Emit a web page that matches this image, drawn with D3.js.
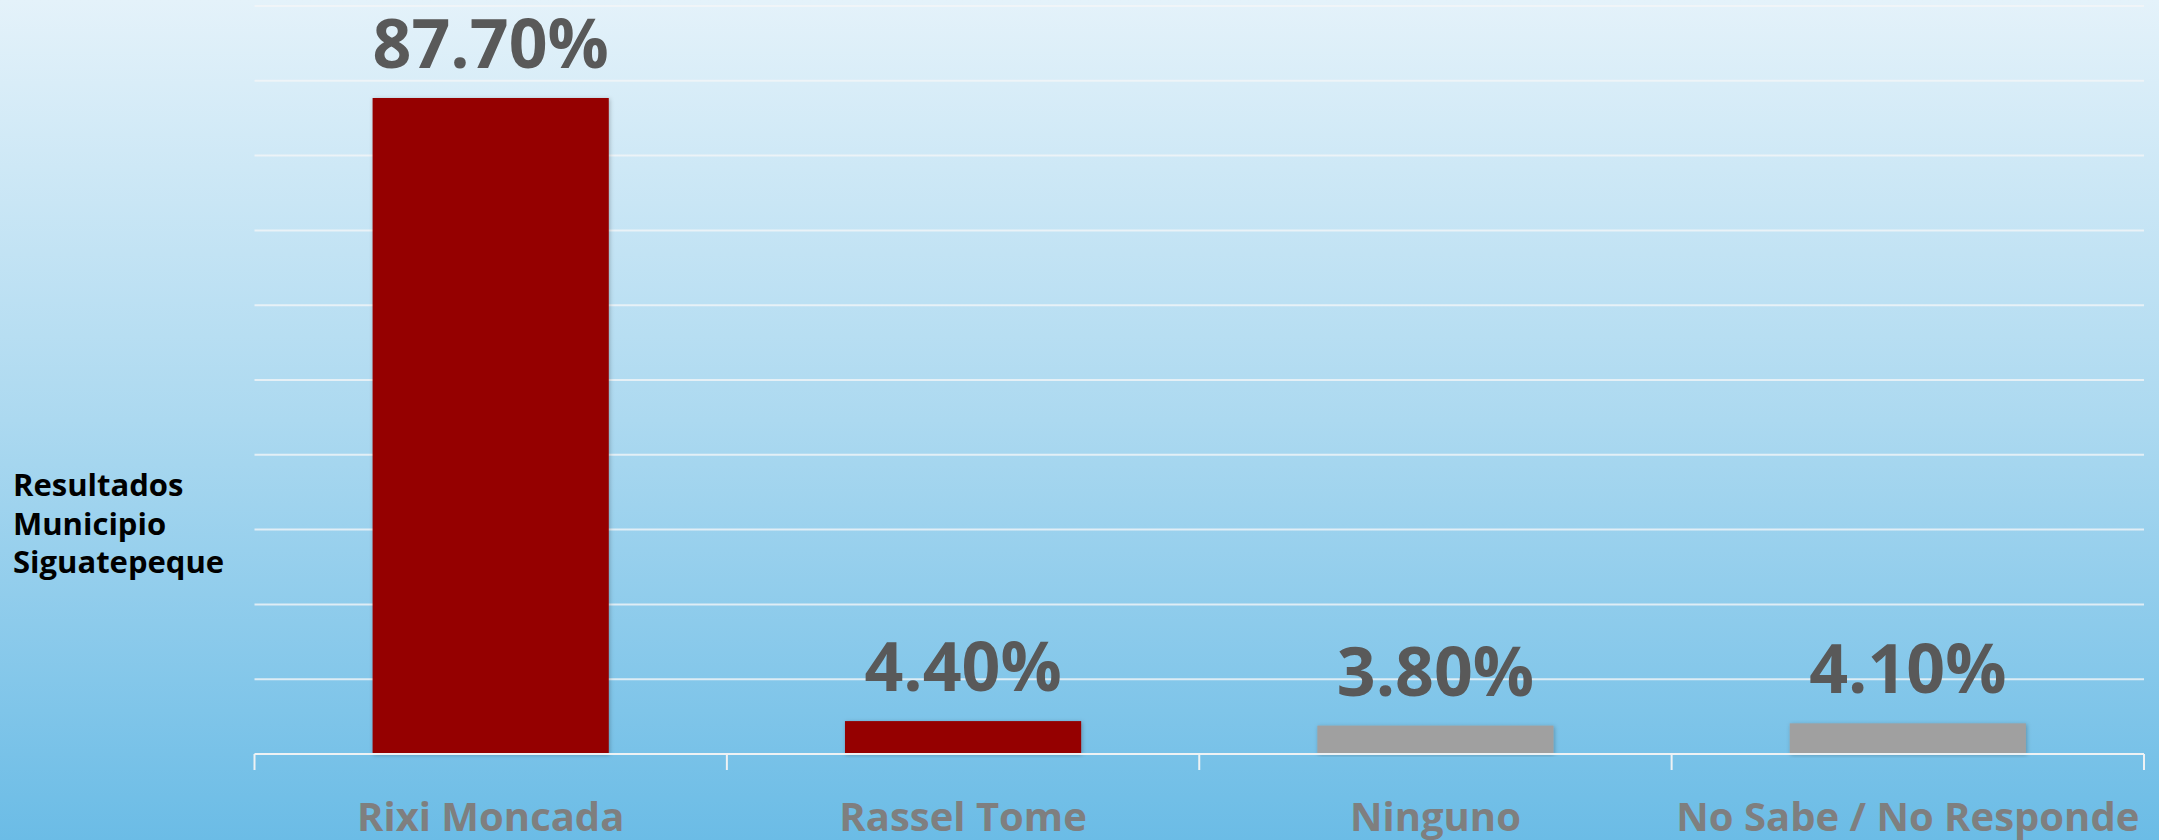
<!DOCTYPE html>
<html>
<head>
<meta charset="utf-8">
<script src="https://cdn.jsdelivr.net/npm/d3@7"></script>
<style>
  html, body { margin: 0; padding: 0; }
  body { width: 2159px; height: 840px; overflow: hidden; }
</style>
</head>
<body>
<div id="chart"></div>
<script>
// datos
const categories = ["Rixi Moncada", "Rassel Tome", "Ninguno", "No Sabe / No Responde"];
const values = [87.7, 4.4, 3.8, 4.1];
const barColors = ["#950000", "#950000", "#a0a0a0", "#a0a0a0"];
const titleLines = ["Resultados", "Municipio", "Siguatepeque"];

const W = 2159, H = 840;
const plotLeft = 254.5, plotRight = 2144, plotBase = 754, plotTop = 6;

const svg = d3.select("#chart")
  .append("svg")
  .attr("width", W)
  .attr("height", H);

const defs = svg.append("defs");
const grad = defs.append("linearGradient")
  .attr("id", "bg")
  .attr("x1", 0).attr("y1", 0).attr("x2", 0).attr("y2", 1);
grad.append("stop").attr("offset", "0%").attr("stop-color", "#e4f2fa");
grad.append("stop").attr("offset", "50%").attr("stop-color", "#acd9f0");
grad.append("stop").attr("offset", "100%").attr("stop-color", "#6bbce6");

const shadow = defs.append("filter").attr("id", "shadow")
  .attr("x", "-10%").attr("y", "-10%").attr("width", "120%").attr("height", "120%");
shadow.append("feDropShadow")
  .attr("dx", 1).attr("dy", 1).attr("stdDeviation", 2)
  .attr("flood-color", "#000").attr("flood-opacity", 0.25);

svg.append("rect")
  .attr("width", W).attr("height", H)
  .attr("fill", "url(#bg)");

const x = d3.scaleBand()
  .domain(categories)
  .range([plotLeft, plotRight])
  .paddingInner(0.5)
  .paddingOuter(0.25);

// escala sin padding para las marcas del eje
const xEdge = d3.scaleBand()
  .domain(categories)
  .range([plotLeft, plotRight]);

const y = d3.scaleLinear()
  .domain([0, 100])
  .range([plotBase, plotTop]);

// lineas de cuadricula
svg.append("g")
  .selectAll("line")
  .data(y.ticks(10).filter(d => d > 0))
  .enter()
  .append("line")
  .attr("x1", plotLeft)
  .attr("x2", plotRight)
  .attr("y1", d => y(d))
  .attr("y2", d => y(d))
  .attr("stroke", "#f2f5f7")
  .attr("stroke-opacity", 0.8)
  .attr("stroke-width", 2);

// barras
svg.append("g")
  .selectAll("rect")
  .data(values)
  .enter()
  .append("rect")
  .attr("x", (d, i) => x(categories[i]))
  .attr("y", d => y(d))
  .attr("width", x.bandwidth())
  .attr("height", d => plotBase - y(d))
  .attr("fill", (d, i) => barColors[i])
  .attr("filter", "url(#shadow)");

// eje x
const axis = svg.append("g");
axis.append("line")
  .attr("x1", plotLeft).attr("x2", plotRight)
  .attr("y1", plotBase).attr("y2", plotBase)
  .attr("stroke", "#eef2f4")
  .attr("stroke-width", 2);
axis.selectAll("line.tick")
  .data(categories.map(c => xEdge(c)).concat([plotRight]))
  .enter()
  .append("line")
  .attr("class", "tick")
  .attr("x1", d => d).attr("x2", d => d)
  .attr("y1", plotBase).attr("y2", plotBase + 16)
  .attr("stroke", "#eef2f4")
  .attr("stroke-width", 2);

axis.selectAll("text")
  .data(categories)
  .enter()
  .append("text")
  .attr("x", d => x(d) + x.bandwidth() / 2)
  .attr("y", 831)
  .attr("text-anchor", "middle")
  .attr("font-family", "Open Sans")
  .attr("font-weight", "bold")
  .attr("font-size", 40)
  .attr("fill", "#7f7f7f")
  .text(d => d);

// etiquetas de valor
svg.append("g")
  .selectAll("text")
  .data(values)
  .enter()
  .append("text")
  .attr("x", (d, i) => x(categories[i]) + x.bandwidth() / 2)
  .attr("y", d => y(d) - 30)
  .attr("text-anchor", "middle")
  .attr("font-family", "Open Sans")
  .attr("font-weight", "bold")
  .attr("font-size", 68)
  .attr("fill", "#595959")
  .text(d => d.toFixed(2) + "%");

// titulo del eje
svg.append("g")
  .selectAll("text")
  .data(titleLines)
  .enter()
  .append("text")
  .attr("x", 13)
  .attr("y", (d, i) => 496 + i * 38.5)
  .attr("font-family", "Open Sans")
  .attr("font-weight", "bold")
  .attr("font-size", 31)
  .attr("fill", "#000")
  .text(d => d);
</script>
</body>
</html>
